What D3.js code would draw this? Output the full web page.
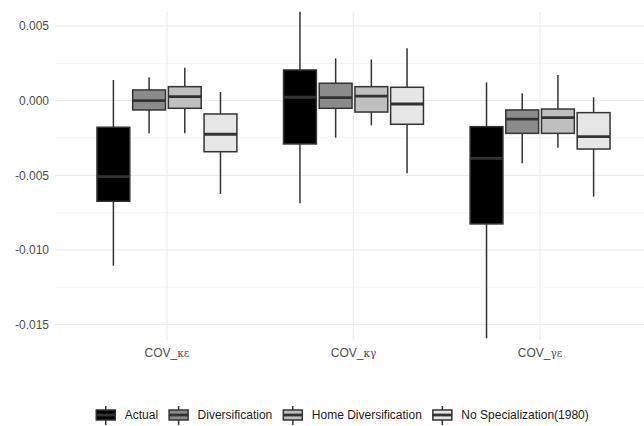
<!DOCTYPE html>
<html>
<head>
<meta charset="utf-8">
<script src="https://cdn.jsdelivr.net/npm/d3@7"></script>
<style>
  body { margin: 0; background: #fff; }
  svg { display: block; font-family: "Liberation Sans", Arial, sans-serif; }
</style>
</head>
<body>
<svg id="chart" width="644" height="426"></svg>
<script>
// Categories, series and box statistics
const categories = ["COV_κε", "COV_κγ", "COV_γε"];
const series = ["Actual", "Diversification", "Home Diversification", "No Specialization(1980)"];
const fills = ["#000000", "#8b8b8b", "#bfbfbf", "#e6e6e6"];

// [lower whisker, Q1, median, Q3, upper whisker] per category, per series
const actual = [
    [-0.01106, -0.00674, -0.00509, -0.00178, 0.00139],
    [-0.00688, -0.00290, 0.00023, 0.00206, 0.00597],
    [-0.01593, -0.00826, -0.00386, -0.00174, 0.00123]
];
const diversification = [
    [-0.00219, -0.00062, 0.00000, 0.00072, 0.00157],
    [-0.00248, -0.00051, 0.00020, 0.00117, 0.00284],
    [-0.00420, -0.00219, -0.00123, -0.00062, 0.00050]
];
const homeDiversification = [
    [-0.00219, -0.00051, 0.00027, 0.00094, 0.00221],
    [-0.00165, -0.00076, 0.00031, 0.00094, 0.00277],
    [-0.00315, -0.00219, -0.00114, -0.00056, 0.00172]
];
const noSpecialization = [
    [-0.00625, -0.00342, -0.00225, -0.00089, 0.00058],
    [-0.00487, -0.00158, -0.00022, 0.00090, 0.00351],
    [-0.00643, -0.00324, -0.00241, -0.00080, 0.00023]
];
const yTicks = [-0.015, -0.010, -0.005, 0.000, 0.005];
const yMinor = [-0.0125, -0.0075, -0.0025, 0.0025];

const stats = [actual, diversification, homeDiversification, noSpecialization];

const panel = { left: 55, right: 652, top: 12, bottom: 340 };
const svg = d3.select("#chart");

const y = d3.scaleLinear()
    .domain([-0.01604, 0.005945])
    .range([panel.bottom, panel.top]);

const x = d3.scalePoint()
    .domain(categories)
    .range([panel.left, panel.right])
    .padding(0.6);

const step = x.step();
const dodge = d3.scaleBand()
    .domain(series)
    .range([-0.375 * step, 0.375 * step])
    .paddingInner(0.08);

// Grid lines
const grid = svg.append("g");
grid.selectAll(".minor")
    .data(yMinor)
    .enter().append("line")
    .attr("x1", panel.left).attr("x2", panel.right)
    .attr("y1", d => y(d)).attr("y2", d => y(d))
    .attr("stroke", "#f0f0f0")
    .attr("stroke-width", 0.8);
grid.selectAll(".major")
    .data(yTicks)
    .enter().append("line")
    .attr("x1", panel.left).attr("x2", panel.right)
    .attr("y1", d => y(d)).attr("y2", d => y(d))
    .attr("stroke", "#ebebeb")
    .attr("stroke-width", 1.2);
grid.selectAll(".vmajor")
    .data(categories)
    .enter().append("line")
    .attr("x1", d => x(d)).attr("x2", d => x(d))
    .attr("y1", panel.top).attr("y2", panel.bottom)
    .attr("stroke", "#ebebeb")
    .attr("stroke-width", 1.2);

// Y axis labels
const yAxis = svg.append("g")
    .attr("transform", `translate(${panel.left - 6}, 0)`)
    .call(d3.axisLeft(y).tickValues(yTicks).tickSize(0).tickPadding(0).tickFormat(d3.format(".3f")));
yAxis.select(".domain").remove();
yAxis.selectAll("text")
    .attr("fill", "#4d4d4d")
    .style("font-size", "12px")
    .style("font-family", "'Liberation Sans', Arial, sans-serif")
    .text(d => d3.format(".3f")(d).replace("−", "-"));

// X axis labels: "COV_" plus Greek subscript pair
const xLab = svg.append("g").selectAll("text")
    .data(categories)
    .enter().append("text")
    .attr("x", d => x(d))
    .attr("y", 357)
    .attr("text-anchor", "middle")
    .attr("fill", "#4d4d4d")
    .style("font-size", "12px");
xLab.append("tspan").text(d => d.slice(0, 4));
xLab.append("tspan")
    .style("font-family", "'DejaVu Serif', serif")
    .style("font-size", "10.5px")
    .text(d => d.slice(4));

// Boxes
const boxW = dodge.bandwidth();
series.forEach((s, si) => {
    const g = svg.append("g");
    categories.forEach((c, ci) => {
        const [lo, q1, med, q3, hi] = stats[si][ci];
        const cx = x(c) + dodge(s) + boxW / 2;
        g.append("line")
            .attr("x1", cx).attr("x2", cx)
            .attr("y1", y(hi)).attr("y2", y(q3))
            .attr("stroke", "#333333").attr("stroke-width", 1.5);
        g.append("line")
            .attr("x1", cx).attr("x2", cx)
            .attr("y1", y(q1)).attr("y2", y(lo))
            .attr("stroke", "#333333").attr("stroke-width", 1.5);
        g.append("rect")
            .attr("x", cx - boxW / 2)
            .attr("y", y(q3))
            .attr("width", boxW)
            .attr("height", y(q1) - y(q3))
            .attr("fill", fills[si])
            .attr("stroke", "#333333")
            .attr("stroke-width", 1.5);
        g.append("line")
            .attr("x1", cx - boxW / 2).attr("x2", cx + boxW / 2)
            .attr("y1", y(med)).attr("y2", y(med))
            .attr("stroke", "#333333").attr("stroke-width", 2.8);
    });
});

// Legend
const legend = svg.append("g");
const keyW = 19, keyGap = 9.5, itemGap = 11, legendY = 415;
const items = series.map((s, i) => {
    const item = legend.append("g");
    item.append("line")
        .attr("x1", keyW / 2).attr("x2", keyW / 2)
        .attr("y1", legendY - 9).attr("y2", legendY + 10)
        .attr("stroke", "#333333").attr("stroke-width", 1.5);
    item.append("rect")
        .attr("x", 0).attr("y", legendY - 5)
        .attr("width", keyW).attr("height", 10)
        .attr("fill", fills[i])
        .attr("stroke", "#333333").attr("stroke-width", 1.5);
    item.append("line")
        .attr("x1", 0).attr("x2", keyW)
        .attr("y1", legendY).attr("y2", legendY)
        .attr("stroke", "#333333").attr("stroke-width", 2.8);
    const t = item.append("text")
        .attr("x", keyW + keyGap)
        .attr("y", legendY + 4.3)
        .attr("fill", "#1a1a1a")
        .style("font-size", "12px")
        .text(s);
    return { item, w: keyW + keyGap + t.node().getComputedTextLength() };
});
const total = d3.sum(items, d => d.w) + itemGap * (items.length - 1);
let lx = 342.5 - total / 2;
items.forEach(d => {
    d.item.attr("transform", `translate(${lx}, 0)`);
    lx += d.w + itemGap;
});
</script>
</body>
</html>
